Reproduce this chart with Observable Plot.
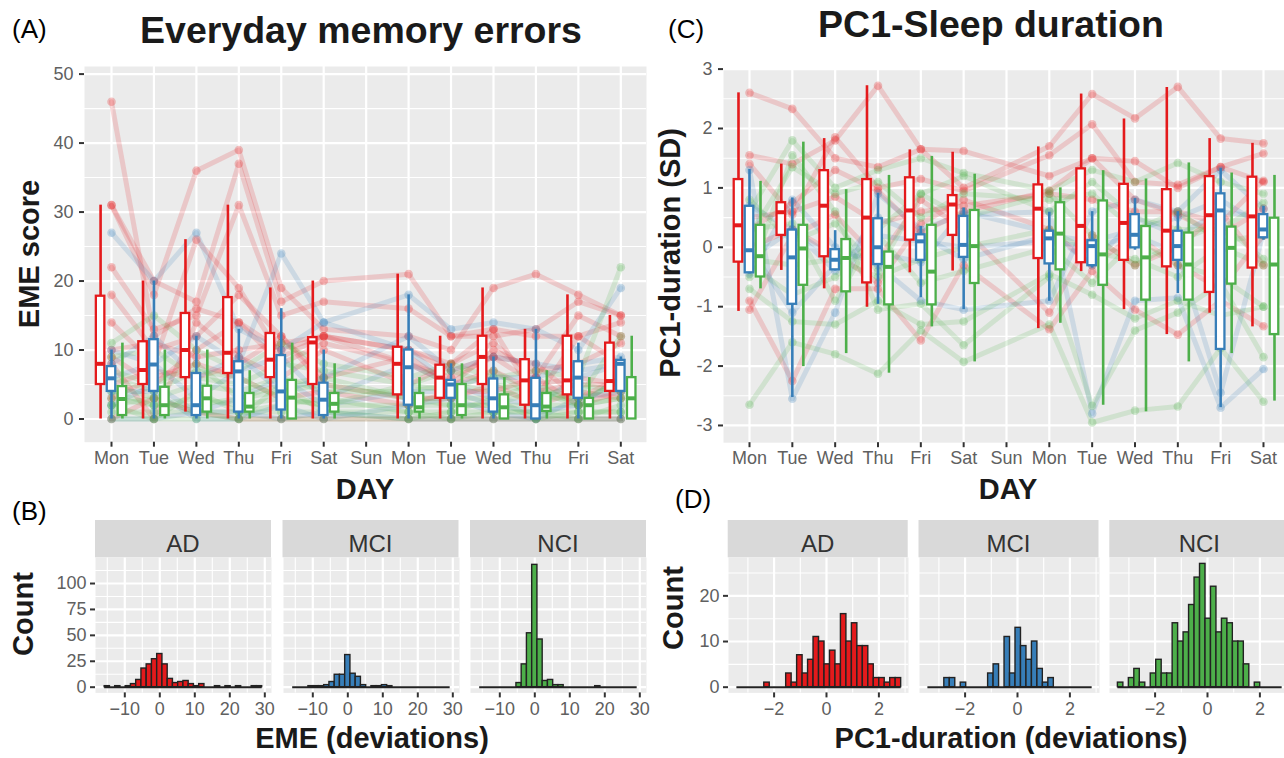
<!DOCTYPE html>
<html><head><meta charset="utf-8">
<script src="https://cdn.jsdelivr.net/npm/d3@7"></script>
<script src="https://cdn.jsdelivr.net/npm/@observablehq/plot@0.6"></script>
<style>
html,body{margin:0;padding:0;background:#fff;overflow:hidden;}
#root{position:relative;width:1284px;height:758px;overflow:hidden;font-family:"Liberation Sans",Arial,sans-serif;}
#root > svg{position:absolute;}
</style></head><body><div id="root"></div>
<script>
// ---------- categories ----------
const GROUPS = ["AD","MCI","NCI"];
const COLORS = ["#E41A1C","#377EB8","#4DAF4A"];
const dayLabels = ["Mon","Tue","Wed","Thu","Fri","Sat","Sun","Mon","Tue","Wed","Thu","Fri","Sat"];
const dayIdx = [0,1,2,3,4,5,6,7,8,9,10,11,12];
const obsDays = [0,1,2,3,4,5,7,8,9,10,11,12];

// ---------- (A) EME boxplot stats ----------
const emeAD_lo  = [0,0,1,0,0,0, 0,0,0,0,0,0];
const emeAD_q1  = [5,5,6,6.6,6,5, 3.5,3,5,2,3.5,4];
const emeAD_med = [8,7.1,10,9.6,8.6,11.1, 8,6,9,5.6,5.6,5.5];
const emeAD_q3  = [17.8,11.2,15.3,17.6,12.4,11.8, 10.4,7.8,12,8.6,12,11];
const emeAD_hi  = [31,20,26,31,19,20, 21,12,19,13,18,15];
const emeMCI_lo  = [0,0,0,0,0,0, 0,0,0,0,0,0];
const emeMCI_q1  = [4,4,0.5,1,1.3,0.5, 2,3,1,0,3,4];
const emeMCI_med = [5.9,7.9,2,6.9,4,2.8, 7.5,5,3,2,6,8];
const emeMCI_q3  = [7.6,11.5,6.6,8.3,9.2,5.2, 10,5.6,5.8,5.9,8.3,8.5];
const emeMCI_hi  = [10,20,12,13,16,10, 18,8,9,13,11,9];
const emeNCI_lo  = [0,0,0,0,0,0, 0,0,0,0,0,0];
const emeNCI_q1  = [0.5,0.5,1,1,0,1, 1,0.5,0,1.1,0,0];
const emeNCI_med = [2.9,2,3,1.8,3.1,2.2, 1.7,2,1.7,1.8,2,3];
const emeNCI_q3  = [4.7,4.6,4.75,3.7,5.6,3.7, 3.7,5,3.5,3.7,3,6];
const emeNCI_hi  = [11,10,10,7,11,8, 6,8,6,7,6,12];

// ---------- (A) EME individual trajectories ----------
const emeTrajAD = [
  [46,12,16,14,10,12, 8,6,9,5,6,5],
  [31,20,17,37,17,20, 21,12,13,12,12,14],
  [31,18,36,39,19,13, 12,10,19,21,18,15],
  [22,13,15,31,15,17, 16,12,12,13,17,15],
  [14,8,26,19,9,12, 10,8,11,6,15,12],
  [9,5,10,14,8,11, 8,5,7,4,5,5],
  [8,0,14,9,6,10, 5,8,13,3,12,8],
  [5,7,6,8,12,5, 3,3,5,2,4,3],
  [0,3,1,0,0,0, 0,0,0,0,0,0],
  [10,11,9,10,11,12, 10,7,9,8,3,6],
  [18,10,12,18,12,6, 9,5,10,7,8,11],
  [3,6,8,6,3,4, 2,4,4,6,2,4]
];
const emeTrajMCI = [
  [27,20,27,13,10,14, 18,13,14,13,10,19],
  [10,8,12,8,24,14, 10,5,6,6,8,9],
  [6,8,3,7,9,3, 8,5,3,2,6,8],
  [4,4,0,0,2,0, 2,3,1,0,3,4],
  [0,0,1,1,0,1, 0,0,0,0,0,0],
  [8,12,6,9,4,6, 12,7,9,8,7,8],
  [2,5,1,3,6,2, 4,4,2,1,2,6]
];
const emeTrajNCI = [
  [11,15,10,7,11,8, 6,8,6,7,6,22],
  [5,3,5,4,6,4, 4,5,4,3,3,12],
  [3,2,3,2,3,2, 2,2,2,2,2,3],
  [1,1,1,1,1,1, 1,1,1,1,1,1],
  [0,0,0,0,0,0, 0,0,0,0,0,0],
  [7,5,8,3,5,6, 3,3,3,5,2,6],
  [2,0,4,1,2,3, 1,0,1,1,0,2],
  [9,10,6,5,8,7, 5,7,5,4,3,5],
  [4,2,2,3,4,5, 3,2,2,4,2,3],
  [6,4,7,6,3,2, 5,4,7,3,5,4],
  [2,3,1,0,5,1, 0,1,3,0,1,1]
];

// ---------- (C) PC1 duration boxplot stats ----------
const pcAD_hi  = [2.6,1.4,1.83,2.72,1.64,1.6, 1.69,2.58,2.16,2.69,1.83,1.75];
const pcAD_q3  = [1.14,0.75,1.29,1.14,1.17,0.87, 1.05,1.32,1.06,0.97,1.19,1.18];
const pcAD_med = [0.37,0.59,0.7,0.5,0.62,0.72, 0.65,0.36,0.41,0.28,0.54,0.52];
const pcAD_q1  = [-0.25,0.2,-0.16,-0.6,0.12,0.2, -0.19,-0.26,-0.22,-0.33,-0.76,-0.35];
const pcAD_lo  = [-1.08,-0.39,-0.7,-1.01,-0.43,-0.4, -1.37,-0.41,-1.05,-1.47,-1.11,-1.34];
const pcMCI_hi  = [1.31,0.83,0.28,0.91,0.35,0.66, 0.59,0.6,0.82,0.6,1.33,0.69];
const pcMCI_q3  = [0.69,0.29,-0.04,0.48,0.21,0.52, 0.27,0.11,0.55,0.27,0.9,0.55];
const pcMCI_med = [-0.05,-0.17,-0.21,0,0.1,0.04, 0.15,0.02,0.21,0.02,0.62,0.3];
const pcMCI_q1  = [-0.43,-0.96,-0.38,-0.29,-0.22,-0.17, -0.28,-0.31,-0.01,-0.22,-1.72,0.16];
const pcMCI_lo  = [-0.45,-2.53,-0.4,-0.96,-0.85,-1.05, -0.91,-0.35,-0.05,-0.78,-2.7,0.12];
const pcNCI_hi  = [1.11,1.77,0.97,1.21,1.53,1.23, 1.0,1.29,1.15,1.42,1.25,1.21];
const pcNCI_q3  = [0.37,0.37,0.13,-0.08,0.37,0.62, 0.75,0.78,0.35,0.24,0.34,0.49];
const pcNCI_med = [-0.15,-0.02,-0.18,-0.33,-0.41,0.02, 0.23,-0.12,-0.17,-0.29,-0.01,-0.29];
const pcNCI_q1  = [-0.5,-0.64,-0.75,-0.97,-0.97,-0.61, -0.38,-0.64,-0.89,-0.89,-0.62,-1.47];
const pcNCI_lo  = [-0.7,-2.01,-1.79,-2.12,-1.34,-1.93, -1.28,-2.66,-2.77,-1.93,-1.79,-2.59];

// ---------- (C) PC1 individual trajectories ----------
const pcTrajAD = [
  [2.6,2.33,1.5,1.35,1.65,1.62, 1.2,1.5,1.45,1.0,1.35,1.1],
  [1.55,1.4,1.8,2.72,1.65,1.0, 1.7,2.58,2.17,2.7,1.83,1.75],
  [1.4,0.55,1.85,1.0,1.15,0.95, 1.55,2.07,1.1,1.05,1.35,1.58],
  [0.5,0.6,0.85,0.4,0.6,0.7, 0.9,0.8,0.6,0.6,0.4,1.12],
  [-0.9,-2.25,-0.7,-0.7,-1.57,-0.3, -1.38,-0.4,-1.05,-1.47,-0.9,-1.33],
  [-1.05,0.2,0.55,-0.2,0.8,0.3, -1.1,0.2,-0.3,0.0,0.6,-0.3],
  [0.3,0.75,1.3,0.95,0.25,0.6, 0.95,1.5,0.8,0.55,0.2,0.65],
  [0.0,0.3,-0.1,-0.6,0.4,0.8, 0.3,-0.3,0.2,-0.3,-0.7,0.2]
];
const pcTrajMCI = [
  [1.3,-2.55,-1.1,0.9,0.3,0.55, 0.6,-2.8,-0.9,-0.85,-2.7,-2.05],
  [-0.45,0.8,0.0,-0.3,-0.9,-1.05, -0.9,0.6,0.8,0.6,1.3,0.65],
  [0.0,-1.1,-0.3,0.2,0.1,0.0, 0.1,0.0,0.2,-0.1,-2.45,0.25],
  [0.7,0.3,-0.2,-0.1,-0.25,0.6, 0.25,-0.3,0.5,0.2,0.6,0.5],
  [-0.2,0.3,-0.4,0.5,0.2,-0.2, 0.2,0.1,0.3,0.5,0.8,0.35]
];
const pcTrajNCI = [
  [-2.65,-1.6,-1.8,-2.13,-1.4,-1.93, -1.3,-2.95,-2.75,-2.68,-1.7,-2.6],
  [0.6,1.8,1.0,1.3,1.5,1.25, 0.95,1.3,1.1,1.42,1.1,0.9],
  [-0.5,1.55,0.6,-1.05,-0.95,-1.65, -0.5,-2.67,-1.4,-1.1,-0.6,-1.85],
  [0.3,0.4,-0.9,0.3,0.9,1.2, 0.6,1.1,0.5,0.3,0.3,0.75],
  [-0.2,-0.3,-0.2,-0.5,-0.2,0.0, 0.3,-0.1,-0.2,-0.5,0.0,-0.3],
  [-0.7,-1.25,-1.3,-0.9,-1.3,-1.25, -0.45,-0.8,-1.2,-0.9,-1.15,-1.0],
  [0.2,1.35,0.9,1.1,0.5,0.9, 0.8,0.9,0.3,0.6,0.1,0.2],
  [0.8,0.1,0.4,-0.4,0.9,0.5, 0.9,0.2,-0.3,0.1,0.4,-0.2],
  [-0.3,-0.8,-0.5,0.2,-0.6,-0.4, 0.0,-0.6,0.1,-0.3,-0.5,-1.0]
];

// ---------- (B) EME deviation histograms (30 bins) ----------
const emeBinStart = -15.75, emeBinWidth = 1.5;
const emeHistAD  = [1,0,1,0,1,3,7,18,22,27,32,22,8,4,5,6,3,1,3,0,0,1,0,1,0,1,0,0,1,1];
const emeHistMCI = [0,0,0,1,1,1,2,5,12,12,31,13,10,2,0,1,1,2,1,0,0,0,0,0,0,0,0,0,0,0];
const emeHistNCI = [0,0,0,0,0,0,0,4,22,52,118,46,6,7,2,2,0,0,0,0,0,0,1,0,0,0,0,0,0,0];

// ---------- (D) PC1 deviation histograms (30 bins) ----------
const pcBinStart = -3.42, pcBinWidth = 0.209;
const pcHistAD  = [0,0,0,0,0,1,0,0,0,3,1,7,3,6,11,10,5,8,5,16,10,14,9,9,5,2,2,1,2,2];
const pcHistMCI = [0,0,0,2,2,0,1,0,0,0,0,3,5,0,11,3,13,9,6,10,4,1,2,0,0,0,0,0,0,0];
const pcHistNCI = [1,0,2,4,1,0,3,6,3,3,14,10,12,18,24,27,15,22,12,15,14,10,10,5,0,1,0,0,0,0];

// ================= drawing =================
const FONT = '"Liberation Sans", Arial, Helvetica, sans-serif';
const root = document.getElementById("root");
const OFFSET = {AD:-0.257, MCI:0, NCI:0.257};
const HALF = 0.1;
const PANEL = "#EBEBEB";
const TICKTEXT = "#606060";

function place(svg, left, top) {
  svg.style.left = left + "px";
  svg.style.top = top + "px";
  svg.style.position = "absolute";
  root.appendChild(svg);
}
function longTraj(byGroup) {
  const out = [];
  for (const g of GROUPS) byGroup[g].forEach((arr, i) => arr.forEach((v, j) => out.push({id: g + i, group: g, day: obsDays[j], v})));
  return out;
}
function boxRows(s) {
  const out = [];
  for (const g of GROUPS) obsDays.forEach((d, j) => out.push({group: g, x: d + OFFSET[g],
    lo: s[g].lo[j], q1: s[g].q1[j], med: s[g].med[j], q3: s[g].q3[j], hi: s[g].hi[j]}));
  return out;
}
function axisStyle(extra) {
  return Object.assign({stroke: "#333", strokeWidth: 2, fill: TICKTEXT, fontSize: 18, label: null}, extra);
}

function boxPanel(o) {
  const boxes = boxRows(o.stats);
  const traj = longTraj(o.traj);
  const [x0, x1, y0, y1] = o.panel;
  const ML = 64, MR = 4, MT = 4, MB = 32;
  const svg = Plot.plot({
    width: x1 - x0 + ML + MR, height: y1 - y0 + MT + MB,
    marginLeft: ML, marginRight: MR, marginTop: MT, marginBottom: MB,
    style: {background: "transparent", fontFamily: FONT, fontSize: "18px", overflow: "visible"},
    x: {type: "linear", domain: o.xDomain},
    y: {domain: o.yDomain},
    color: {domain: GROUPS, range: COLORS},
    marks: [
      Plot.frame({fill: PANEL, stroke: "none"}),
      Plot.ruleY(o.yMinor, {stroke: "#fff", strokeWidth: 1.1}),
      Plot.ruleY(o.yMajor, {stroke: "#fff", strokeWidth: 2.2}),
      Plot.ruleX(dayIdx, {stroke: "#fff", strokeWidth: 2.2}),
      Plot.line(traj, {x: "day", y: "v", z: "id", stroke: "group", strokeWidth: 5, strokeOpacity: 0.17}),
      Plot.dot(traj, {x: "day", y: "v", fill: "group", fillOpacity: 0.26, r: 4.3}),
      Plot.ruleX(boxes, {x: "x", y1: "lo", y2: "hi", stroke: "group", strokeWidth: 2.6}),
      Plot.rect(boxes, {x1: d => d.x - HALF, x2: d => d.x + HALF, y1: "q1", y2: "q3", fill: "white", stroke: "group", strokeWidth: 2.3}),
      Plot.ruleY(boxes, {y: "med", x1: d => d.x - HALF, x2: d => d.x + HALF, stroke: "group", strokeWidth: 4}),
      Plot.axisY(o.yMajor, axisStyle({tickSize: 5, tickPadding: 6, tickFormat: o.yFormat})),
      Plot.axisX(dayIdx, axisStyle({tickSize: 5, tickPadding: 4, tickFormat: i => dayLabels[i]}))
    ]
  });
  place(svg, x0 - ML, y0 - MT);
}

function histPanel(o) {
  const bins = o.counts.map((c, k) => ({a: o.start + k * o.w, b: o.start + (k + 1) * o.w, c}));
  const [x0, x1, y0, y1] = o.panel;
  const ML = 50, MR = 14, MT = 2, MB = 30;
  const svg = Plot.plot({
    width: x1 - x0 + ML + MR, height: y1 - y0 + MT + MB,
    marginLeft: ML, marginRight: MR, marginTop: MT, marginBottom: MB,
    style: {background: "transparent", fontFamily: FONT, fontSize: "18px", overflow: "visible"},
    x: {type: "linear", domain: o.xDomain},
    y: o.showY ? {domain: o.yDomain} : {domain: o.yDomain, axis: null},
    marks: [
      Plot.frame({fill: PANEL, stroke: "none"}),
      Plot.ruleY(o.yMinor, {stroke: "#fff", strokeWidth: 1.1}),
      Plot.ruleX(o.xMinor, {stroke: "#fff", strokeWidth: 1.1}),
      Plot.ruleY(o.yMajor, {stroke: "#fff", strokeWidth: 2.2}),
      Plot.ruleX(o.xMajor, {stroke: "#fff", strokeWidth: 2.2}),
      Plot.ruleY([0], {x1: bins[0].a, x2: bins[bins.length - 1].b, stroke: "#222", strokeWidth: 2}),
      Plot.rect(bins.filter(d => d.c > 0), {x1: "a", x2: "b", y1: 0, y2: "c", fill: o.color, stroke: "#222", strokeWidth: 1.4}),
      Plot.axisX(o.xMajor, axisStyle({tickSize: 5, tickPadding: 4})),
      o.showY ? Plot.axisY(o.yMajor, axisStyle({tickSize: 5, tickPadding: 4})) : null
    ]
  });
  place(svg, x0 - ML, y0 - MT);
}

// (A)
boxPanel({
  panel: [84, 646, 66, 441.7],
  xDomain: [-0.636, 12.605], yDomain: [-3.36, 51.1],
  yMajor: [0, 10, 20, 30, 40, 50], yMinor: [5, 15, 25, 35, 45],
  stats: {
    AD: {lo: emeAD_lo, q1: emeAD_q1, med: emeAD_med, q3: emeAD_q3, hi: emeAD_hi},
    MCI: {lo: emeMCI_lo, q1: emeMCI_q1, med: emeMCI_med, q3: emeMCI_q3, hi: emeMCI_hi},
    NCI: {lo: emeNCI_lo, q1: emeNCI_q1, med: emeNCI_med, q3: emeNCI_q3, hi: emeNCI_hi}
  },
  traj: {AD: emeTrajAD, MCI: emeTrajMCI, NCI: emeTrajNCI}
});
// (C)
boxPanel({
  panel: [723.3, 1289, 67.5, 441.7],
  xDomain: [-0.607, 12.6], yDomain: [-3.29, 3.01],
  yMajor: [-3, -2, -1, 0, 1, 2, 3], yMinor: [-2.5, -1.5, -0.5, 0.5, 1.5, 2.5],
  yFormat: d => String(d),
  stats: {
    AD: {lo: pcAD_lo, q1: pcAD_q1, med: pcAD_med, q3: pcAD_q3, hi: pcAD_hi},
    MCI: {lo: pcMCI_lo, q1: pcMCI_q1, med: pcMCI_med, q3: pcMCI_q3, hi: pcMCI_hi},
    NCI: {lo: pcNCI_lo, q1: pcNCI_q1, med: pcNCI_med, q3: pcNCI_q3, hi: pcNCI_hi}
  },
  traj: {AD: pcTrajAD, MCI: pcTrajMCI, NCI: pcTrajNCI}
});

// (B)
const bPanels = [[95, 271], [282.5, 458.5], [470, 646]];
[emeHistAD, emeHistMCI, emeHistNCI].forEach((counts, i) => histPanel({
  counts, start: emeBinStart, w: emeBinWidth, color: COLORS[i], showY: i === 0,
  panel: [bPanels[i][0], bPanels[i][1], 557.3, 692.7],
  xDomain: [-18.37, 31.91], yDomain: [-5.5, 125.1],
  xMajor: [-10, 0, 10, 20, 30], xMinor: [-15, -5, 5, 15, 25],
  yMajor: [0, 25, 50, 75, 100], yMinor: [12.5, 37.5, 62.5, 87.5, 112.5]
}));
// (D)
const dPanels = [[727.7, 907.7], [918.5, 1098.5], [1109.3, 1289.3]];
[pcHistAD, pcHistMCI, pcHistNCI].forEach((counts, i) => histPanel({
  counts, start: pcBinStart, w: pcBinWidth, color: COLORS[i], showY: i === 0,
  panel: [dPanels[i][0], dPanels[i][1], 557.3, 692.7],
  xDomain: [-3.74, 3.13], yDomain: [-1.25, 28.4],
  xMajor: [-2, 0, 2], xMinor: [-3, -1, 1, 3],
  yMajor: [0, 10, 20], yMinor: [5, 15, 25]
}));

// ---------- text overlay ----------
const ov = d3.select(root).append("svg").attr("width", 1284).attr("height", 758)
  .style("left", "0px").style("top", "0px").style("font-family", FONT);
function txt(s, x, y, size, weight, anchor, color, rotate) {
  const t = ov.append("text").text(s).attr("font-size", size).attr("font-weight", weight)
    .attr("text-anchor", anchor).attr("fill", color || "#000");
  if (rotate) t.attr("transform", `translate(${x},${y}) rotate(-90)`); else t.attr("x", x).attr("y", y);
}
// strips
GROUPS.forEach((g, i) => {
  [[bPanels[i][0], bPanels[i][1]], [dPanels[i][0], dPanels[i][1]]].forEach(([a, b]) => {
    ov.append("rect").attr("x", a).attr("y", 520).attr("width", b - a).attr("height", 37.3).attr("fill", "#D9D9D9");
    txt(g, (a + b) / 2, 551.5, 24, "normal", "middle", "#333");
  });
});
txt("(A)", 12, 38, 26, "normal", "start");
txt("(C)", 668, 38, 26, "normal", "start");
txt("(B)", 12, 520, 26, "normal", "start");
txt("(D)", 675, 508, 26, "normal", "start");
txt("Everyday memory errors", 361, 43, 37.5, "bold", "middle", "#1a1a1a");
txt("PC1-Sleep duration", 991, 37, 37.5, "bold", "middle", "#1a1a1a");
txt("EME score", 39, 254, 29, "bold", "middle", "#1a1a1a", true);
txt("PC1-duration (SD)", 680, 253, 29, "bold", "middle", "#1a1a1a", true);
txt("DAY", 365, 499, 29, "bold", "middle", "#1a1a1a");
txt("DAY", 1008, 499, 29, "bold", "middle", "#1a1a1a");
txt("Count", 33, 614, 29, "bold", "middle", "#1a1a1a", true);
txt("Count", 683, 608, 29, "bold", "middle", "#1a1a1a", true);
txt("EME (deviations)", 372, 748, 29, "bold", "middle", "#1a1a1a");
txt("PC1-duration (deviations)", 1011, 748, 29, "bold", "middle", "#1a1a1a");
</script></body></html>
